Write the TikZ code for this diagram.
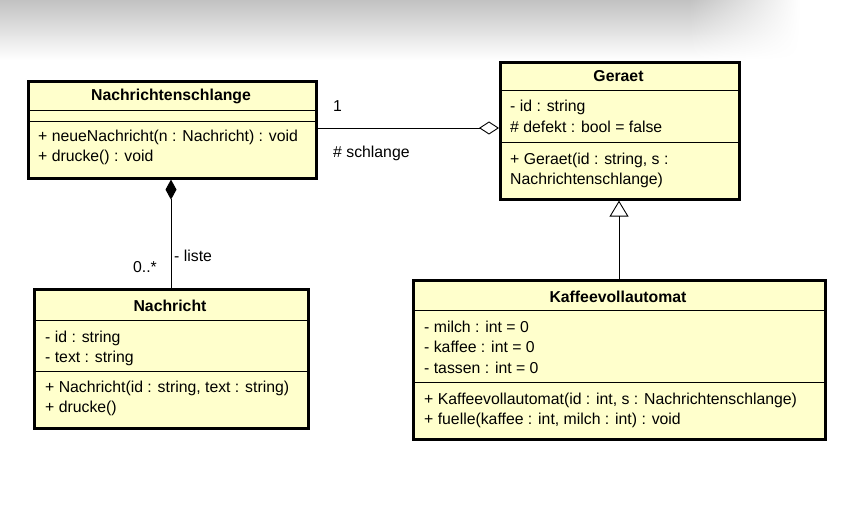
\documentclass[tikz,border=0pt]{standalone}
\usepackage{fontspec}
\setmainfont{Liberation Sans}
\usepackage{xcolor}
\usepackage{tikz}
\usetikzlibrary{arrows.meta}
\usetikzlibrary{fadings}
\definecolor{umlyellow}{RGB}{255,255,204}
\tikzset{
  classbox/.style={draw, line width=2.6pt, fill=umlyellow, anchor=north west, inner sep=0pt},
  classtitle/.style={font=\bfseries\fontsize{15.8}{18}\selectfont, inner sep=0pt},
  member/.style={font=\fontsize{15.8}{18}\selectfont, anchor=west, inner sep=0pt},
  rolelabel/.style={font=\fontsize{15.8}{18}\selectfont, inner sep=0pt},
  sep/.style={line width=0.9pt},
  link/.style={line width=0.9pt}
}
\begin{document}
\begin{tikzpicture}[x=1pt, y=-1pt]
                \useasboundingbox (0,0) rectangle (847,532);
                % screenshot shadow at the top
                \shade[top color=black!24, bottom color=white] (0,0) rectangle (690,60);
                \shade[top color=black!24, bottom color=white, path fading=east] (690,0) rectangle (800,60);
                % Nachrichtenschlange
                \node[classbox, minimum width=288pt, minimum height=97pt] (schlange) at (27,80) {};
                \node[classtitle] (schlange-t) at (171,96) {Nachrichtenschlange};
                \draw[sep] (27,110) -- (315,110);
                \draw[sep] (27,121) -- (315,121);
                \node[member] (schlange-m1) at (38,137) {+ neueNachricht(n : Nachricht) : void};
                \node[member] (schlange-m2) at (38,157) {+ drucke() : void};
                % Geraet
                \node[classbox, minimum width=239pt, minimum height=137pt] (geraet) at (499,61) {};
                \node[classtitle] (geraet-t) at (618.5,76) {Geraet};
                \draw[sep] (499,90) -- (738,90);
                \node[member] (geraet-a1) at (510,107) {- id : string};
                \node[member] (geraet-a2) at (510,127) {\# defekt : bool = false};
                \draw[sep] (499,142) -- (738,142);
                \node[member] (geraet-m1) at (510,160) {+ Geraet(id : string, s :};
                \node[member] (geraet-m2) at (510,180) {Nachrichtenschlange)};
                % Nachricht
                \node[classbox, minimum width=274pt, minimum height=139pt] (nachricht) at (33,288) {};
                \node[classtitle] (nachricht-t) at (170,306) {Nachricht};
                \draw[sep] (33,320) -- (307,320);
                \node[member] (nachricht-a1) at (45,338) {- id : string};
                \node[member] (nachricht-a2) at (45,358) {- text : string};
                \draw[sep] (33,371) -- (307,371);
                \node[member] (nachricht-m1) at (45,388) {+ Nachricht(id : string, text : string)};
                \node[member] (nachricht-m2) at (45,408) {+ drucke()};
                % Kaffeevollautomat
                \node[classbox, minimum width=412pt, minimum height=159pt] (kaffee) at (412,279) {};
                \node[classtitle] (kaffee-t) at (618,297) {Kaffeevollautomat};
                \draw[sep] (412,310) -- (824,310);
                \node[member] (kaffee-a1) at (424,327) {- milch : int = 0};
                \node[member] (kaffee-a2) at (424,347) {- kaffee : int = 0};
                \node[member] (kaffee-a3) at (424,368) {- tassen : int = 0};
                \draw[sep] (412,382) -- (824,382);
                \node[member] (kaffee-m1) at (424,400) {+ Kaffeevollautomat(id : int, s : Nachrichtenschlange)};
                \node[member] (kaffee-m2) at (424,420) {+ fuelle(kaffee : int, milch : int) : void};
                % connectors
                \coordinate (schlange-r) at (schlange.east |- 0,128);
                \coordinate (geraet-l) at (geraet.west |- 0,128);
                \draw[link, -{Diamond[open, length=20pt, width=13pt, line width=0.9pt]}] (schlange-r) -- (geraet-l);
                \node[rolelabel, anchor=west] (mult1) at (333,106) {1};
                \node[rolelabel, anchor=west] (role1) at (333,153) {\# schlange};
                \coordinate (schlange-b) at (schlange.south -| 171,0);
                \coordinate (nachricht-top) at (nachricht.north -| 171,0);
                \draw[link, -{Diamond[length=20pt, width=11pt]}] (nachricht-top) -- (schlange-b);
                \node[rolelabel, anchor=west] (role2) at (174,256) {- liste};
                \node[rolelabel, anchor=east] (mult2) at (157,267) {0..*};
                \coordinate (geraet-b) at (geraet.south -| 619,0);
                \coordinate (kaffee-top) at (kaffee.north -| 619,0);
                \draw[link, -{Triangle[open, length=16pt, width=19pt, line width=0.9pt]}] (kaffee-top) -- (geraet-b);
            \end{tikzpicture}
\end{document}
